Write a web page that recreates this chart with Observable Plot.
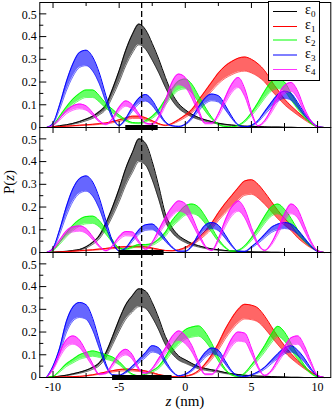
<!DOCTYPE html>
<html><head><meta charset="utf-8">
<script src="https://cdn.jsdelivr.net/npm/d3@7"></script>
<script src="https://cdn.jsdelivr.net/npm/@observablehq/plot@0.6"></script>
<style>
html,body{margin:0;padding:0;background:#fff;}
#wrap{position:relative;width:332px;height:411px;overflow:hidden;font-family:"Liberation Serif","Times New Roman",serif;color:#000;}
#chart{position:absolute;left:0;top:0;}
#chart svg text{font-family:"Liberation Serif","Times New Roman",serif !important;}
#ylabel{position:absolute;left:8.5px;top:181.5px;transform:translate(-50%,-50%) rotate(-90deg);font-size:15px;line-height:13px;white-space:nowrap;}
#xlabel{position:absolute;left:185px;top:395.2px;transform:translateX(-50%);font-size:15px;line-height:13px;white-space:nowrap;}
#legend{position:absolute;left:268px;top:1px;width:50px;height:78px;border:1px solid #000;background:#fff;}
.lline{position:absolute;left:3.7px;width:24px;height:0;}
.ltext{position:absolute;left:36px;top:0;font-size:14px;line-height:14px;white-space:nowrap;}
.ltext sub{font-size:9px;line-height:0;vertical-align:-3px;}
</style>
</head><body>
<div id="wrap">
  <div id="chart"></div>
  <div id="ylabel">P(<i>z</i>)</div>
  <div id="xlabel"><i>z</i> (nm)</div>
  <div id="legend"></div>
</div>
<script>
// z grid (nm)
const zGrid = [-10.5,-10,-9.5,-9,-8.5,-8,-7.5,-7,-6.5,-6,-5.5,-5,-4.5,-4,-3.5,-3,-2.5,-2,-1.5,-1,-0.5,0,0.5,1,1.5,2,2.5,3,3.5,4,4.5,5,5.5,6,6.5,7,7.5,8,8.5,9,9.5,10,10.5];

// Panel 1 (top)
const p1_e0 = [0,0.003,0.008,0.012,0.018,0.026,0.037,0.05,0.07,0.1,0.17,0.25,0.34,0.41,0.455,0.43,0.37,0.3,0.22,0.15,0.105,0.078,0.058,0.044,0.034,0.026,0.019,0.014,0.011,0.008,0.006,0.005,0.004,0.003,0.002,0.002,0.001,0.001,0,0,0,0,0];
const p1_e1 = [0,0.002,0.004,0.006,0.008,0.01,0.012,0.014,0.017,0.02,0.026,0.034,0.042,0.05,0.05,0.043,0.03,0.017,0.01,0.018,0.035,0.055,0.08,0.12,0.16,0.2,0.24,0.27,0.29,0.305,0.31,0.3,0.28,0.25,0.205,0.165,0.125,0.095,0.068,0.042,0.02,0.004,0];
const p1_e2 = [0,0.01,0.05,0.09,0.125,0.15,0.165,0.165,0.14,0.105,0.08,0.055,0.035,0.022,0.02,0.03,0.05,0.08,0.125,0.17,0.205,0.213,0.19,0.14,0.09,0.045,0.015,0.005,0.003,0.01,0.03,0.065,0.11,0.16,0.2,0.213,0.2,0.15,0.1,0.055,0.02,0.003,0];
const p1_e3 = [0,0.02,0.1,0.2,0.28,0.33,0.34,0.31,0.24,0.14,0.05,0.01,0.04,0.09,0.13,0.145,0.12,0.07,0.025,0.008,0.005,0.015,0.045,0.09,0.13,0.147,0.14,0.1,0.05,0.012,0.003,0.01,0.03,0.07,0.11,0.145,0.16,0.15,0.11,0.065,0.03,0.005,0];
const p1_e4 = [0,0.01,0.04,0.075,0.095,0.103,0.095,0.065,0.03,0.015,0.04,0.09,0.117,0.1,0.06,0.02,0.015,0.05,0.12,0.2,0.235,0.22,0.16,0.08,0.02,0.02,0.06,0.13,0.19,0.22,0.17,0.07,0.008,0.03,0.08,0.14,0.185,0.198,0.16,0.085,0.03,0.003,0];

// Panel 2 (middle)
const p2_e0 = [0,0.001,0.003,0.005,0.009,0.013,0.025,0.045,0.075,0.13,0.2,0.28,0.37,0.44,0.5,0.48,0.4,0.29,0.17,0.11,0.075,0.055,0.04,0.03,0.022,0.016,0.012,0.009,0.007,0.005,0.004,0.003,0.002,0.002,0.001,0.001,0,0,0,0,0,0,0];
const p2_e1 = [0,0.001,0.002,0.004,0.006,0.008,0.01,0.012,0.015,0.018,0.021,0.024,0.026,0.027,0.027,0.025,0.02,0.014,0.009,0.008,0.012,0.022,0.04,0.065,0.095,0.13,0.175,0.215,0.25,0.285,0.315,0.32,0.3,0.265,0.225,0.185,0.15,0.12,0.08,0.05,0.025,0.008,0];
const p2_e2 = [0,0.01,0.045,0.085,0.12,0.145,0.158,0.16,0.14,0.1,0.055,0.02,0.015,0.025,0.035,0.035,0.04,0.06,0.09,0.14,0.175,0.205,0.213,0.2,0.16,0.11,0.06,0.025,0.006,0.01,0.03,0.065,0.11,0.16,0.2,0.213,0.19,0.15,0.1,0.06,0.03,0.008,0];
const p2_e3 = [0,0.02,0.1,0.2,0.28,0.325,0.337,0.31,0.24,0.14,0.05,0.008,0.02,0.06,0.1,0.122,0.125,0.1,0.06,0.025,0.006,0.006,0.03,0.08,0.12,0.132,0.12,0.08,0.035,0.006,0.005,0.025,0.05,0.08,0.11,0.125,0.132,0.125,0.1,0.065,0.03,0.005,0];
const p2_e4 = [0,0.015,0.055,0.095,0.113,0.117,0.105,0.07,0.03,0.008,0.03,0.07,0.092,0.09,0.05,0.015,0.045,0.1,0.155,0.2,0.227,0.215,0.16,0.09,0.03,0.01,0.06,0.14,0.2,0.227,0.19,0.11,0.04,0.01,0.04,0.1,0.17,0.213,0.19,0.12,0.05,0.008,0];

// Panel 3 (bottom)
const p3_e0 = [0,0.002,0.006,0.01,0.016,0.023,0.032,0.045,0.065,0.11,0.18,0.255,0.32,0.36,0.39,0.38,0.33,0.26,0.18,0.13,0.095,0.078,0.062,0.048,0.04,0.034,0.029,0.022,0.017,0.013,0.01,0.008,0.006,0.005,0.004,0.003,0.002,0.001,0.001,0,0,0,0];
const p3_e1 = [0,0.001,0.002,0.003,0.004,0.005,0.008,0.012,0.018,0.024,0.03,0.035,0.037,0.036,0.033,0.029,0.022,0.013,0.008,0.004,0.003,0.006,0.013,0.03,0.06,0.1,0.15,0.21,0.26,0.3,0.322,0.318,0.305,0.27,0.225,0.18,0.14,0.105,0.075,0.048,0.025,0.008,0];
const p3_e2 = [0,0.005,0.03,0.06,0.08,0.1,0.11,0.117,0.11,0.1,0.09,0.07,0.04,0.015,0.008,0.015,0.03,0.05,0.09,0.14,0.18,0.21,0.222,0.227,0.2,0.15,0.09,0.04,0.012,0.005,0.02,0.055,0.095,0.14,0.19,0.225,0.2,0.15,0.1,0.055,0.02,0.003,0];
const p3_e3 = [0,0.05,0.13,0.245,0.31,0.33,0.32,0.26,0.16,0.06,0.012,0.01,0.025,0.05,0.08,0.11,0.14,0.13,0.075,0.03,0.008,0.015,0.035,0.07,0.11,0.13,0.12,0.075,0.03,0.008,0.005,0.012,0.025,0.045,0.075,0.105,0.13,0.14,0.12,0.085,0.04,0.008,0];
const p3_e4 = [0,0.04,0.11,0.165,0.183,0.165,0.115,0.06,0.015,0.02,0.06,0.105,0.124,0.1,0.04,0.02,0.04,0.085,0.13,0.18,0.205,0.185,0.14,0.07,0.015,0.015,0.05,0.11,0.17,0.2,0.195,0.13,0.05,0.01,0.03,0.08,0.135,0.175,0.183,0.14,0.07,0.01,0];

// Thick bars on the z axis (start/end, nm), one per panel
const barStart = [-4.5, -5.0, -5.5];
const barEnd = [-2.05, -1.6, -1.0];
// Dashed reference position (nm)
const dashZ = [-3.3];

// Tick values
const xTicks = [-10, -5, 0, 5, 10];
const xMinor = [-7.5, -2.5, 2.5, 7.5];
const yTicks = [0, 0.1, 0.2, 0.3, 0.4, 0.5];
const yMinor = [0.05, 0.15, 0.25, 0.35, 0.45];

// Series
const seriesSub = ["0", "1", "2", "3", "4"];
const colors = ["#000000", "#ff0000", "#00ff00", "#0000ff", "#ff00ff"];
const BAND = 0.8; // lower edge of the oscillation band, as a fraction of the peak envelope

const panels = [[p1_e0,p1_e1,p1_e2,p1_e3,p1_e4],[p2_e0,p2_e1,p2_e2,p2_e3,p2_e4],[p3_e0,p3_e1,p3_e2,p3_e3,p3_e4]];
const rows = [];
panels.forEach((arrs, pi) => arrs.forEach((vals, si) => vals.forEach((v, i) => rows.push({panel: pi + 1, series: si, z: zGrid[i], v}))));
const bars = barStart.map((a, i) => ({panel: i + 1, a, b: barEnd[i]}));

const W = 332, ML = 39.3, MR = 1.7, MT = 1.7, MB = 34.3;
const innerW = W - ML - MR;
const facetH = (411 - MT - MB) / 3;

const seriesMarks = [];
colors.forEach((c, si) => {
  const d = rows.filter(r => r.series === si);
  seriesMarks.push(
    Plot.areaY(d, {x: "z", y1: r => r.v * BAND, y2: "v", z: "panel", fy: "panel", fill: c, fillOpacity: 0.6, curve: "monotone-x"}),
    Plot.line(d, {x: "z", y: "v", z: "panel", fy: "panel", stroke: c, strokeWidth: 1, curve: "monotone-x"}),
    Plot.line(d, {x: "z", y: r => r.v * BAND, z: "panel", fy: "panel", stroke: c, strokeWidth: 0.7, strokeOpacity: 0.85, curve: "monotone-x"})
  );
});

const yFmt = d => d === 0 ? "0" : d.toFixed(1);

const chart = Plot.plot({
  width: W, height: 411,
  marginLeft: ML, marginRight: MR, marginTop: MT, marginBottom: MB,
  x: {domain: [-11, 11]},
  y: {domain: [0, 0.55]},
  fy: {domain: [1, 2, 3], padding: 0, axis: null},
  style: {fontFamily: "Liberation Serif", fontSize: "12px", background: "transparent", overflow: "visible", color: "#000"},
  marks: [
    ...seriesMarks,
    Plot.ruleX(dashZ, {stroke: "#000", strokeWidth: 1.3, strokeDasharray: "6,3"}),
    Plot.ruleY(bars, {y: () => 0, x1: "a", x2: "b", fy: "panel", stroke: "#000", strokeWidth: 5}),
    Plot.ruleX(xTicks, {insetTop: facetH - 6, stroke: "#000"}),
    Plot.ruleX(xTicks, {insetBottom: facetH - 6, stroke: "#000"}),
    Plot.ruleX(xMinor, {insetTop: facetH - 4, stroke: "#000"}),
    Plot.ruleX(xMinor, {insetBottom: facetH - 4, stroke: "#000"}),
    Plot.ruleY(yTicks, {insetRight: innerW - 7, stroke: "#000"}),
    Plot.ruleY(yMinor, {insetRight: innerW - 4, stroke: "#000"}),
    Plot.frame({stroke: "#000", strokeWidth: 1}),
    Plot.axisY({ticks: yTicks.filter(t => t === 0), tickSize: 0, tickPadding: 3, tickFormat: yFmt, label: null, dy: -1.5}),
    Plot.axisY({ticks: yTicks.filter(t => t > 0 && t < 0.5), tickSize: 0, tickPadding: 3, tickFormat: yFmt, label: null}),
    Plot.axisY({ticks: yTicks.filter(t => t === 0.5), tickSize: 0, tickPadding: 3, tickFormat: yFmt, label: null, dy: 1}),
    Plot.axisX({ticks: xTicks, tickSize: 0, tickPadding: 5, tickFormat: d => String(d), label: null})
  ]
});
document.getElementById("chart").appendChild(chart);

// Legend
const legend = document.getElementById("legend");
const lineStyles = [
  {w: 1.2, o: 1}, {w: 1.2, o: 1}, {w: 2.5, o: 0.5}, {w: 2.5, o: 0.5}, {w: 1.6, o: 0.8}
];
seriesSub.forEach((s, i) => {
  const cy = 9.7 + 14.5 * i;
  const ln = document.createElement("div");
  ln.className = "lline";
  ln.style.top = (cy - lineStyles[i].w / 2) + "px";
  ln.style.borderTop = lineStyles[i].w + "px solid " + colors[i];
  ln.style.opacity = lineStyles[i].o;
  const tx = document.createElement("div");
  tx.className = "ltext";
  tx.style.top = (cy - 8.5) + "px";
  tx.innerHTML = "ε<sub>" + s + "</sub>";
  legend.appendChild(ln);
  legend.appendChild(tx);
});
</script>
</body></html>
